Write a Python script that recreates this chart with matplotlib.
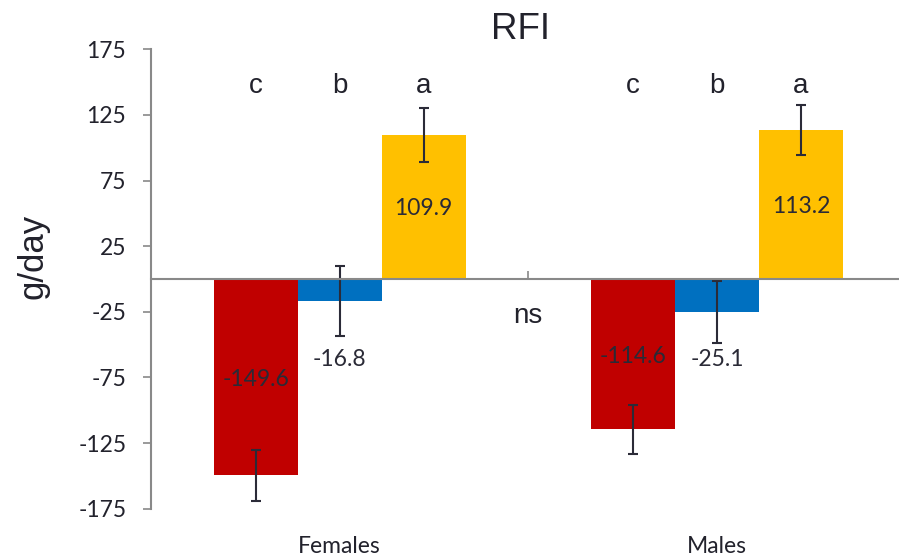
import numpy as np
import matplotlib
matplotlib.use('Agg')
from matplotlib import pyplot as plt
from matplotlib import transforms

categories = ['Females', 'Males']
red_vals = [-149.6, -114.6]
blue_vals = [-16.8, -25.1]
yellow_vals = [109.9, 113.2]
red_err = [19.3, 18.5]
blue_err = [26.5, 23.9]
yellow_err = [20.6, 19.0]
letters = ['c', 'b', 'a']
yticks = [-175, -125, -75, -25, 25, 75, 125, 175]

text_col = '#22222c'
axis_col = '#898989'

fig = plt.figure(figsize=(8.99, 5.58), dpi=100)
ax = fig.add_axes([151 / 899, 0.0884, 754.6 / 899, 0.8233])

x = np.arange(len(categories))
w = 0.2226
series = [(red_vals, red_err, '#C00000'),
          (blue_vals, blue_err, '#0070C0'),
          (yellow_vals, yellow_err, '#FFC000')]
for i, (vals, err, col) in enumerate(series):
    pos = x + (i - 1) * w
    ax.bar(pos, vals, w, color=col, zorder=2)
    ax.errorbar(pos, vals, yerr=err, fmt='none', ecolor='#2b2b38',
                elinewidth=1.5, capsize=3.8, capthick=1.5, zorder=3)

# value labels: red / yellow centred in bar, blue below the bar
for i in range(len(categories)):
    ax.text(x[i] - w, red_vals[i] / 2, f'{red_vals[i]:.1f}', ha='center',
            va='center_baseline', fontsize=16.5, family='Lato', color='#2a2a36', zorder=4)
    ax.text(x[i], -59.5, f'{blue_vals[i]:.1f}', ha='center',
            va='center_baseline', fontsize=16.5, family='Lato', color='#2a2a36', zorder=4)
    ax.text(x[i] + w, yellow_vals[i] / 2, f'{yellow_vals[i]:.1f}', ha='center',
            va='center_baseline', fontsize=16.5, family='Lato', color='#2a2a36', zorder=4)
    for j, let in enumerate(letters):
        ax.text(x[i] + (j - 1) * w, 141.5, let, ha='center', va='baseline',
                fontsize=20, family='Liberation Sans', color=text_col)

ax.text(0.5, -33.3, 'ns', ha='center', va='baseline', fontsize=20,
        family='Liberation Sans', color=text_col)

ax.set_xlim(-0.5, 1.5)
ax.set_ylim(-175, 175)
ax.set_yticks(yticks)
ax.set_yticklabels([str(t) for t in yticks], family='Lato', fontsize=16.5, color=text_col)
ax.tick_params(axis='y', length=5.8, width=1.2, color=axis_col, pad=12)

ax.spines['top'].set_visible(False)
ax.spines['right'].set_visible(False)
ax.spines['left'].set_color(axis_col)
ax.spines['left'].set_linewidth(1.5)
ax.spines['bottom'].set_position(('data', 0))
ax.spines['bottom'].set_color(axis_col)
ax.spines['bottom'].set_linewidth(1.5)
ax.spines['bottom'].set_zorder(5)
ax.set_xticks([])
ax.set_xticks([-0.5, 0.5, 1.5], minor=True)
ax.tick_params(axis='x', which='minor', direction='in', length=5.8, width=1.2,
               color=axis_col, labelbottom=False)

trans = transforms.blended_transform_factory(ax.transData, ax.transAxes)
for i, c in enumerate(categories):
    ax.text(x[i], -0.097, c, transform=trans, ha='center', va='baseline',
            fontsize=16.5, family='Lato', color=text_col)

ax.set_ylabel('g/day', family='Liberation Sans', fontsize=25, color=text_col)
ax.yaxis.set_label_coords(-0.135, 0.548)

fig.text(520.5 / 899, 1 - 39.3 / 558, 'RFI', ha='center', va='baseline',
         fontsize=26.5, family='Liberation Sans', color=text_col)

fig.savefig('out.png', dpi=100)
